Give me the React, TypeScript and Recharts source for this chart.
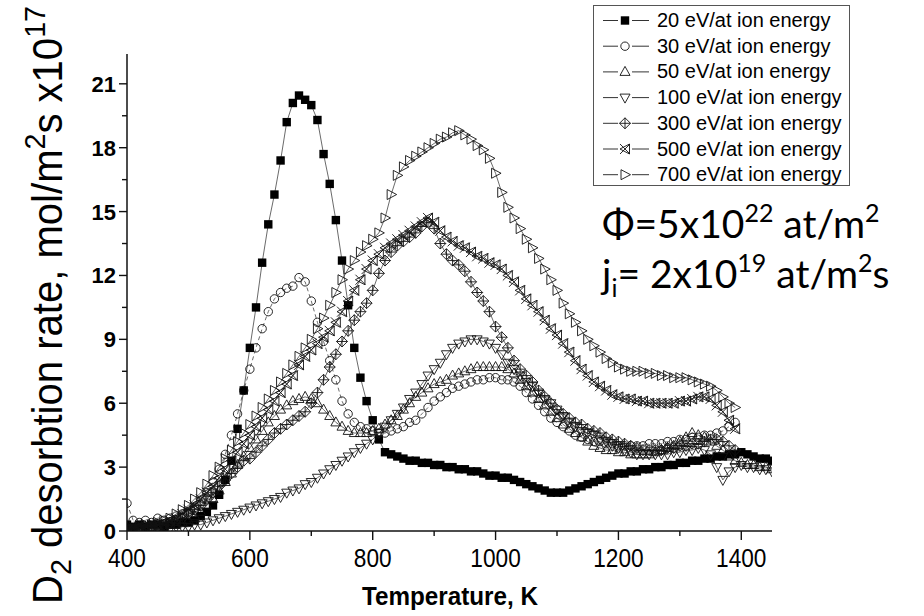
import React from "react";
import { LineChart, Line, XAxis, YAxis } from "recharts";

// temperature grid, K
const temps = [
  400, 410, 420, 430, 440, 450, 460, 470, 480, 490,
  500, 510, 520, 530, 540, 550, 560, 570, 580, 590,
  600, 610, 620, 630, 640, 650, 660, 670, 680, 690,
  700, 710, 720, 730, 740, 750, 760, 770, 780, 790,
  800, 810, 820, 830, 840, 850, 860, 870, 880, 890,
  900, 910, 920, 930, 940, 950, 960, 970, 980, 990,
  1000, 1010, 1020, 1030, 1040, 1050, 1060, 1070, 1080, 1090,
  1100, 1110, 1120, 1130, 1140, 1150, 1160, 1170, 1180, 1190,
  1200, 1210, 1220, 1230, 1240, 1250, 1260, 1270, 1280, 1290,
  1300, 1310, 1320, 1330, 1340, 1350, 1360, 1370, 1380, 1390,
  1400, 1410, 1420, 1430, 1440, 1450,
];

// D2 desorption rate, x10^17 mol/m2s
const ev20 = [
  0.3, 0.2, 0.3, 0.2, 0.3, 0.3, 0.2, 0.3, 0.3, 0.4,
  0.4, 0.5, 0.7, 0.9, 1.2, 1.7, 2.4, 3.3, 4.8, 6.6,
  8.6, 10.5, 12.6, 14.4, 15.8, 17.4, 19.2, 20.1, 20.45, 20.25,
  20.0, 19.3, 17.7, 16.3, 14.6, 12.7, 10.6, 8.6, 7.2, 6.1,
  5.2, 4.3, 3.7, 3.6, 3.5, 3.4, 3.3, 3.3, 3.2, 3.2,
  3.1, 3.1, 3.0, 3.0, 2.9, 2.9, 2.8, 2.8, 2.7, 2.6,
  2.6, 2.5, 2.5, 2.4, 2.3, 2.2, 2.1, 2.0, 1.9, 1.8,
  1.8, 1.8, 1.9, 2.0, 2.1, 2.2, 2.3, 2.4, 2.5, 2.6,
  2.7, 2.7, 2.8, 2.8, 2.9, 2.9, 3.0, 3.0, 3.1, 3.1,
  3.2, 3.2, 3.3, 3.3, 3.4, 3.4, 3.5, 3.5, 3.6, 3.6,
  3.7, 3.6, 3.5, 3.4, 3.4, 3.3,
];
const ev30 = [
  1.3, 0.5, 0.4, 0.5, 0.4, 0.6, 0.5, 0.6, 0.7, 0.8,
  0.9, 1.1, 1.4, 1.8, 2.3, 2.9, 3.6, 4.5, 5.5, 6.6,
  7.6, 8.6, 9.5, 10.3, 10.9, 11.2, 11.4, 11.5, 11.9, 11.7,
  10.8, 9.8, 8.9, 8.0, 7.1, 6.1, 5.5, 5.1, 4.9, 4.8,
  4.7, 4.6, 4.6, 4.7, 4.8, 4.9, 5.1, 5.2, 5.5, 5.8,
  6.1, 6.3, 6.5, 6.7, 6.8, 6.9, 7.0, 7.1, 7.1, 7.2,
  7.2, 7.1, 7.1, 7.0, 6.8, 6.5, 6.2, 5.9, 5.6, 5.3,
  5.1, 4.9, 4.7, 4.5, 4.4, 4.3, 4.2, 4.2, 4.1, 4.1,
  4.0, 4.0, 4.0, 4.0, 4.0, 4.1, 4.1, 4.1, 4.2, 4.2,
  4.3, 4.3, 4.4, 4.4, 4.5, 4.5, 4.6, 4.7, 4.9, 5.1,
  null, null, null, null, null, null,
];
const ev50 = [
  0.2, 0.1, 0.2, 0.1, 0.2, 0.2, 0.2, 0.3, 0.3, 0.4,
  0.5, 0.7, 0.9, 1.2, 1.5, 1.9, 2.3, 2.7, 3.1, 3.5,
  3.9, 4.3, 4.7, 5.1, 5.4, 5.7, 5.9, 6.1, 6.2, 6.3,
  6.2, 6.0, 5.7, 5.4, 5.1, 4.9, 4.7, 4.6, 4.6, 4.6,
  4.7, 4.8, 5.0, 5.2, 5.4, 5.7, 6.0, 6.3, 6.5, 6.7,
  6.9, 7.0, 7.1, 7.3, 7.4, 7.5, 7.6, 7.7, 7.7, 7.7,
  7.7, 7.7, 7.6, 7.4, 7.1, 6.8, 6.5, 6.2, 5.9, 5.6,
  5.3, 5.0, 4.8, 4.6, 4.4, 4.2, 4.0, 3.9, 3.8, 3.8,
  3.7, 3.7, 3.6, 3.6, 3.6, 3.6, 3.7, 3.8, 3.9, 4.0,
  4.2, 4.4, 4.6, 4.5, 4.4, 4.2, 4.0, 3.8, 3.5, 3.3,
  3.2, 3.1, 3.1, 3.0, 3.0, 2.9,
];
const ev100 = [
  0.0, 0.0, 0.1, 0.1, 0.1, 0.1, 0.1, 0.1, 0.2, 0.2,
  0.2, 0.3, 0.3, 0.4, 0.5, 0.6, 0.7, 0.8, 0.9, 1.0,
  1.1, 1.2, 1.3, 1.4, 1.5, 1.6, 1.8, 1.9, 2.0, 2.2,
  2.3, 2.5, 2.7, 2.9, 3.1, 3.3, 3.5, 3.7, 3.9, 4.1,
  4.3, 4.6, 4.9, 5.2, 5.5, 5.8, 6.2, 6.5, 6.9, 7.3,
  7.6, 7.9, 8.3, 8.6, 8.8, 8.9, 9.0, 9.0, 8.9, 8.8,
  8.6, 8.3, 7.9, 7.6, 7.3, 7.0, 6.8, 6.5, 6.2, 6.0,
  5.7, 5.4, 5.1, 4.9, 4.7, 4.6, 4.5, 4.3, 4.2, 4.0,
  3.9, 3.8, 3.7, 3.6, 3.6, 3.6, 3.6, 3.6, 3.6, 3.7,
  3.7, 3.8, 3.8, 3.9, 3.8, 3.6, 3.0, 2.4, 2.8, 3.0,
  3.1, 3.0, 3.0, 2.9, 2.9, 2.8,
];
const ev300 = [
  0.1, 0.1, 0.1, 0.2, 0.2, 0.3, 0.3, 0.4, 0.5, 0.6,
  0.8, 1.0, 1.2, 1.5, 1.8, 2.1, 2.4, 2.7, 3.0, 3.3,
  3.4, 3.7, 4.0, 4.3, 4.6, 4.8, 5.0, 5.2, 5.4, 5.6,
  6.0, 6.5, 7.1, 7.7, 8.3, 8.9, 9.4, 9.9, 10.3, 10.7,
  11.3, 12.1, 12.7, 13.1, 13.4, 13.6, 13.8, 14.0, 14.3, 14.5,
  14.2, 13.5, 13.0, 12.7, 12.5, 12.2, 11.7, 11.2, 10.8, 10.3,
  9.6, 9.1, 8.6, 8.0, 7.6, 7.3, 7.0, 6.6, 6.3, 6.0,
  5.7, 5.5, 5.3, 5.1, 5.0, 4.8, 4.7, 4.6, 4.4, 4.3,
  4.2, 4.1, 4.0, 3.9, 3.8, 3.8, 3.8, 3.8, 3.9, 3.9,
  4.0, 4.0, 4.1, 4.1, 4.2, 4.3, 4.3, 4.2, 4.0, 3.8,
  null, null, null, null, null, null,
];
const ev500 = [
  0.1, 0.1, 0.2, 0.2, 0.3, 0.3, 0.4, 0.5, 0.6, 0.8,
  1.0, 1.2, 1.5, 1.8, 2.1, 2.5, 2.9, 3.3, 3.7, 4.1,
  4.5, 4.9, 5.3, 5.7, 6.1, 6.5, 6.9, 7.3, 7.8, 8.2,
  8.5, 8.8, 9.1, 9.4, 9.8, 10.3, 10.8, 11.3, 11.8, 12.3,
  12.7, 13.0, 13.3, 13.5, 13.7, 13.9, 14.1, 14.3, 14.5, 14.7,
  14.5, 14.1, 13.8, 13.6, 13.4, 13.3, 13.1, 12.9, 12.8, 12.6,
  12.5, 12.3, 12.0, 11.7, 11.3, 10.9, 10.6, 10.3, 9.9, 9.5,
  9.2, 8.8, 8.4, 8.0, 7.6, 7.3, 7.0, 6.8, 6.6, 6.4,
  6.3, 6.2, 6.2, 6.1, 6.1, 6.0, 6.0, 6.0, 6.0, 6.0,
  6.1, 6.1, 6.2, 6.3, 6.3, 6.2, 5.9, 5.6, 5.2, 4.8,
  null, null, null, null, null, null,
];
const ev700 = [
  0.1, 0.1, 0.2, 0.3, 0.3, 0.4, 0.5, 0.6, 0.8, 1.0,
  1.2, 1.5, 1.8, 2.2, 2.6, 3.0, 3.4, 3.8, 4.2, 4.6,
  5.0, 5.4, 5.8, 6.2, 6.6, 7.0, 7.4, 7.8, 8.2, 8.6,
  9.0, 9.5, 10.0, 10.6, 11.2, 11.8, 12.3, 12.7, 13.1, 13.4,
  13.7, 14.0, 14.7, 15.8, 16.7, 17.1, 17.4, 17.6, 17.8, 18.0,
  18.2, 18.4, 18.5, 18.7, 18.8, 18.6, 18.4, 18.1, 17.9, 17.5,
  16.8, 15.9, 15.2, 14.7, 14.2, 13.7, 13.3, 12.8, 12.3, 11.8,
  11.3, 10.7, 10.2, 9.8, 9.4, 9.0, 8.7, 8.4, 8.1, 7.9,
  7.7, 7.6, 7.5, 7.5, 7.5, 7.4, 7.4, 7.3, 7.3, 7.2,
  7.2, 7.2, 7.1, 7.0, 6.9, 6.8, 6.6, 6.3, 6.0, 5.8,
  null, null, null, null, null, null,
];

const xTicks = [400, 500, 600, 700, 800, 900, 1000, 1100, 1200, 1300, 1400];
const yTicks = [0, 1.5, 3, 4.5, 6, 7.5, 9, 10.5, 12, 13.5, 15, 16.5, 18, 19.5, 21];

const series = [
  { key: "ev20", label: "20 eV/at ion energy", values: ev20, shape: "square", dash: undefined },
  { key: "ev30", label: "30 eV/at ion energy", values: ev30, shape: "circle", dash: "4 3" },
  { key: "ev50", label: "50 eV/at ion energy", values: ev50, shape: "up", dash: undefined },
  { key: "ev100", label: "100 eV/at ion energy", values: ev100, shape: "down", dash: undefined },
  { key: "ev300", label: "300 eV/at ion energy", values: ev300, shape: "diamond", dash: undefined },
  { key: "ev500", label: "500 eV/at ion energy", values: ev500, shape: "xtri", dash: undefined },
  { key: "ev700", label: "700 eV/at ion energy", values: ev700, shape: "right", dash: undefined },
];

const data = temps.map((t, i) => {
  const row: Record<string, number | null> = { t };
  series.forEach((s) => (row[s.key] = s.values[i]));
  return row;
});

const W = 924;
const H = 616;
const Y_AXIS_W = 127;
const X_AXIS_H = 85;
const TOP = 54;
const RIGHT = 152;
const LEFT = Y_AXIS_W;
const BOTTOM = H - X_AXIS_H;
const INK = "#111";
const SANS = "'Liberation Sans', Arial, sans-serif";

function Marker({ shape, cx, cy }: { shape: string; cx: number; cy: number }) {
  const sw = 0.9;
  switch (shape) {
    case "square":
      return <rect x={cx - 4.2} y={cy - 4.2} width={8.4} height={8.4} fill="#000" />;
    case "circle":
      return <circle cx={cx} cy={cy} r={4.2} fill="none" stroke={INK} strokeWidth={sw} />;
    case "up":
      return <polygon points={`${cx},${cy - 5.5} ${cx + 5},${cy + 3.5} ${cx - 5},${cy + 3.5}`} fill="none" stroke={INK} strokeWidth={sw} />;
    case "down":
      return <polygon points={`${cx},${cy + 5.5} ${cx + 5},${cy - 3.5} ${cx - 5},${cy - 3.5}`} fill="none" stroke={INK} strokeWidth={sw} />;
    case "diamond":
      return (
        <g fill="none" stroke={INK} strokeWidth={sw}>
          <polygon points={`${cx},${cy - 5.5} ${cx + 5.5},${cy} ${cx},${cy + 5.5} ${cx - 5.5},${cy}`} />
          <line x1={cx} y1={cy - 5.5} x2={cx} y2={cy + 5.5} />
          <line x1={cx - 5.5} y1={cy} x2={cx + 5.5} y2={cy} />
        </g>
      );
    case "xtri":
      return (
        <g fill="none" stroke={INK} strokeWidth={sw}>
          <polygon points={`${cx + 4.5},${cy - 5} ${cx + 4.5},${cy + 5} ${cx - 5},${cy}`} />
          <line x1={cx - 5} y1={cy - 5} x2={cx + 5} y2={cy + 5} />
          <line x1={cx - 5} y1={cy + 5} x2={cx + 5} y2={cy - 5} />
        </g>
      );
    default:
      return <polygon points={`${cx - 4},${cy - 5} ${cx - 4},${cy + 5} ${cx + 5.5},${cy}`} fill="none" stroke={INK} strokeWidth={sw} />;
  }
}

function makeDot(shape: string, key: string) {
  return (p: any) => {
    if (p.cy == null || p.payload?.[key] == null) return <g key={`${key}-${p.index}`} />;
    return (
      <g key={`${key}-${p.index}`}>
        <Marker shape={shape} cx={p.cx} cy={p.cy} />
      </g>
    );
  };
}

function XTick({ x, payload }: any) {
  const major = payload.value % 200 === 0;
  const label = String(payload.value);
  return (
    <g>
      <line x1={x} x2={x} y1={BOTTOM} y2={BOTTOM + (major ? 9 : 5)} stroke={INK} strokeWidth={1.4} />
      {major && (
        <text
          x={x}
          y={BOTTOM + 36}
          textAnchor="middle"
          fontFamily={SANS}
          fontSize={25}
          textLength={label.length * 12.6}
          lengthAdjust="spacingAndGlyphs"
          fill="#000"
        >
          {label}
        </text>
      )}
    </g>
  );
}

function YTick({ y, payload }: any) {
  const major = payload.value % 3 === 0;
  return (
    <g>
      <line x1={LEFT - (major ? 8 : 5)} x2={LEFT} y1={y} y2={y} stroke={INK} strokeWidth={1.4} />
      {major && (
        <text x={LEFT - 11} y={y + 8} textAnchor="end" fontFamily={SANS} fontWeight="bold" fontSize={22} fill="#000">
          {payload.value}
        </text>
      )}
    </g>
  );
}

function XTitle() {
  return (
    <text
      x={450}
      y={BOTTOM + 74}
      textAnchor="middle"
      fontFamily={SANS}
      fontWeight="bold"
      fontSize={25}
      textLength={176}
      lengthAdjust="spacingAndGlyphs"
      fill="#000"
    >
      Temperature, K
    </text>
  );
}

function YTitle() {
  const tx = 62;
  const ty = 305;
  return (
    <text
      transform={`rotate(-90 ${tx} ${ty})`}
      x={tx}
      y={ty}
      textAnchor="middle"
      fontFamily={SANS}
      fontSize={42}
      textLength={598}
      lengthAdjust="spacingAndGlyphs"
      fill="#000"
    >
      D<tspan fontSize={30} dy={9}>2</tspan>
      <tspan dy={-9}> desorbtion rate, mol/m</tspan>
      <tspan fontSize={30} dy={-17}>2</tspan>
      <tspan dy={17}>s x10</tspan>
      <tspan fontSize={30} dy={-17}>17</tspan>
    </text>
  );
}

function LegendBox() {
  const rowH = 25.7;
  return (
    <div
      style={{
        position: "absolute",
        left: 593,
        top: 5,
        width: 257,
        height: 181,
        border: "1px solid #555",
        background: "#fff",
        boxSizing: "border-box",
      }}
    >
      <svg width={255} height={179} style={{ display: "block", overflow: "visible" }}>
        {series.map((s, i) => {
          const y = 14.5 + i * rowH;
          return (
            <g key={s.key}>
              <line x1={9} x2={55} y1={y} y2={y} stroke="#333" strokeWidth={1} />
              <rect x={24} y={y - 6} width={14} height={12} fill="#fff" />
              <Marker shape={s.shape} cx={31} cy={y} />
              <text x={63} y={y + 6.5} fontFamily={SANS} fontSize={20} fill="#000">
                {s.label}
              </text>
            </g>
          );
        })}
      </svg>
    </div>
  );
}

export default function App() {
  return (
    <div style={{ position: "absolute", left: 0, top: 0, width: W, height: H, background: "#fff" }}>
      <LineChart width={W} height={H} data={data} margin={{ top: TOP, right: RIGHT, bottom: 0, left: 0 }}>
        <XAxis
          dataKey="t"
          type="number"
          domain={[400, 1450]}
          ticks={xTicks}
          interval={0}
          allowDataOverflow
          height={X_AXIS_H}
          axisLine={{ stroke: INK, strokeWidth: 1.5 }}
          tickLine={false}
          tickSize={0}
          tickMargin={0}
          tick={<XTick />}
          label={{ content: <XTitle /> }}
        />
        <YAxis
          type="number"
          domain={[0, 22.4]}
          ticks={yTicks}
          interval={0}
          allowDataOverflow
          width={Y_AXIS_W}
          axisLine={{ stroke: INK, strokeWidth: 1.5 }}
          tickLine={false}
          tickSize={0}
          tickMargin={0}
          tick={<YTick />}
          label={{ content: <YTitle /> }}
        />
        {series.map((s) => (
          <Line
            key={s.key}
            dataKey={s.key}
            type="linear"
            stroke="#444"
            strokeWidth={0.8}
            strokeDasharray={s.dash}
            dot={makeDot(s.shape, s.key)}
            activeDot={false}
            isAnimationActive={false}
            connectNulls={false}
            legendType="none"
          />
        ))}
      </LineChart>
      <LegendBox />
      <svg width={W} height={H} style={{ position: "absolute", left: 0, top: 0, pointerEvents: "none" }}>
        <g fontFamily="Lato, 'Open Sans', sans-serif" fontSize={39} fill="#000">
          <text x={602} y={238}>
            Φ=5x10<tspan fontSize={25} dy={-16}>22</tspan>
            <tspan dy={16}> at/m</tspan>
            <tspan fontSize={25} dy={-16}>2</tspan>
          </text>
          <text x={602} y={288}>
            j<tspan fontSize={25} dy={9}>i</tspan>
            <tspan dy={-9}>= 2x10</tspan>
            <tspan fontSize={25} dy={-16}>19</tspan>
            <tspan dy={16}> at/m</tspan>
            <tspan fontSize={25} dy={-16}>2</tspan>
            <tspan dy={16}>s</tspan>
          </text>
        </g>
      </svg>
    </div>
  );
}
